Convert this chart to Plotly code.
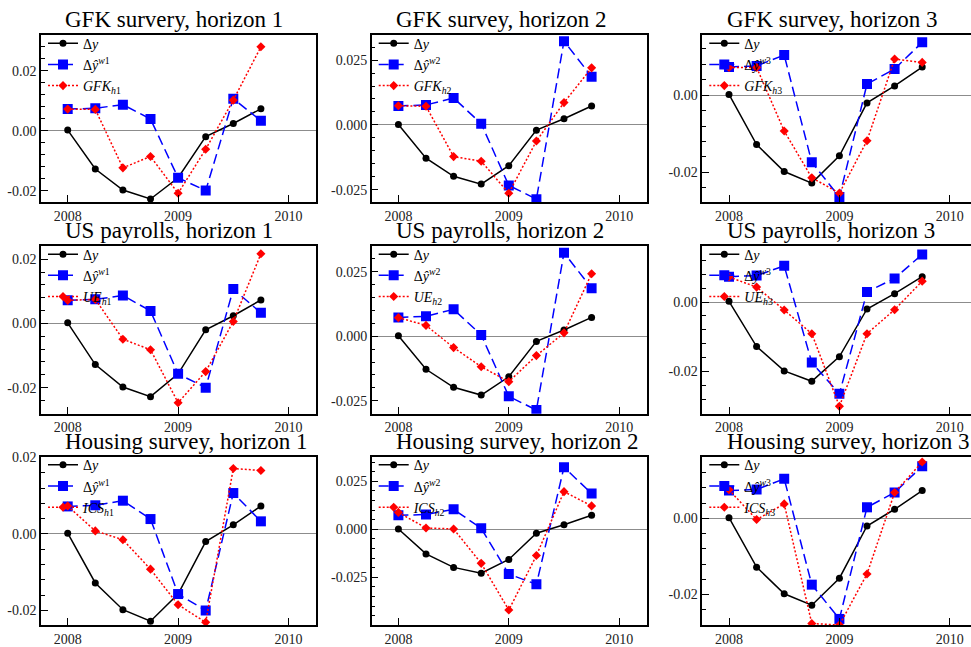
import plotly.graph_objects as go

# Quarterly observation dates
quarters = [2008.0, 2008.25, 2008.5, 2008.75, 2009.0, 2009.25, 2009.5, 2009.75]
year_ticks = [2008, 2009, 2010]

# Realised growth
dy = [0.0002, -0.0128, -0.0198, -0.0228, -0.0157, -0.0020, 0.0024, 0.0073]

# Model forecasts by horizon
dyhat_w1 = [0.0072, 0.0075, 0.0087, 0.0039, -0.0157, -0.0200, 0.0107, 0.0033]
dyhat_w2 = [0.0073, 0.0077, 0.0104, 0.0005, -0.0233, -0.0286, 0.0323, 0.0186]
dyhat_w3 = [0.0073, 0.0076, 0.0104, -0.0174, -0.0264, 0.0029, 0.0068, 0.0137]

# Indicator-based forecasts
gfk_h1 = [0.0072, 0.0071, -0.0124, -0.0086, -0.0209, -0.0062, 0.0102, 0.0280]
gfk_h2 = [0.0074, 0.0072, -0.0122, -0.0140, -0.0263, -0.0062, 0.0086, 0.0220]
gfk_h3 = [0.0072, 0.0072, -0.0093, -0.0214, -0.0254, -0.0118, 0.0094, 0.0085]
ue_h1 = [0.0072, 0.0075, -0.0049, -0.0082, -0.0247, -0.0150, 0.0006, 0.0217]
ue_h2 = [0.0072, 0.0042, -0.0044, -0.0118, -0.0176, -0.0075, 0.0013, 0.0242]
ue_h3 = [0.0072, 0.0043, -0.0023, -0.0091, -0.0300, -0.0091, -0.0022, 0.0060]
ics_h1 = [0.0073, 0.0008, -0.0015, -0.0092, -0.0185, -0.0231, 0.0171, 0.0166]
ics_h2 = [0.0088, 0.0007, 0.0002, -0.0177, -0.0420, -0.0136, 0.0196, 0.0122]
ics_h3 = [0.0075, -0.0003, 0.0038, -0.0276, -0.0280, -0.0146, 0.0068, 0.0148]

titles = [
    "GFK survery, horizon 1", "GFK survey, horizon 2", "GFK survey, horizon 3",
    "US payrolls, horizon 1", "US payrolls, horizon 2", "US payrolls, horizon 3",
    "Housing survey, horizon 1", "Housing survey, horizon 2", "Housing survey, horizon 3",
]
indicator_names = ["GFK", "UE", "ICS"]
indicator_series = [[gfk_h1, gfk_h2, gfk_h3], [ue_h1, ue_h2, ue_h3], [ics_h1, ics_h2, ics_h3]]
model_series = [dyhat_w1, dyhat_w2, dyhat_w3]

y_ranges = [
    [-0.0238, 0.0318], [-0.0297, 0.0345], [-0.0277, 0.0155],
    [-0.0281, 0.0240], [-0.0300, 0.0348], [-0.0321, 0.0160],
    [-0.0238, 0.0201], [-0.0498, 0.0376], [-0.0280, 0.0161],
]

W, H = 971, 647
col_px = [(41, 316), (371.7, 646.7), (702.3, 971)]
row_px = [(29, 199), (244.3, 415), (459.3, 630.7)]
year_px = 110.4
title_left_px = [63, 394, 725]

FONT = "Liberation Serif"

fig = go.Figure()
layout = dict(
    width=W, height=H, margin=dict(l=0, r=0, t=0, b=0),
    paper_bgcolor="white", plot_bgcolor="white",
    font=dict(family=FONT, size=14, color="black"),
    annotations=[],
)

for r in range(3):
    for c in range(3):
        i = r * 3 + c
        n = i + 1
        sfx = "" if n == 1 else str(n)
        xa, ya, lg = "x" + sfx, "y" + sfx, "legend" + sfx

        model = model_series[c]
        ind = indicator_series[r][c]
        h = c + 1

        fig.add_trace(go.Scatter(
            x=quarters, y=dy, mode="lines+markers", name="Δ<i>y</i>",
            line=dict(color="black", width=1.5),
            marker=dict(symbol="circle", size=7, color="black"),
            xaxis=xa, yaxis=ya, legend=lg))
        fig.add_trace(go.Scatter(
            x=quarters, y=model, mode="lines+markers",
            name=f"Δ<i>ŷ</i><sup><i>w</i>{h}</sup>",
            line=dict(color="#0000ff", width=1.5, dash="10px,5px"),
            marker=dict(symbol="square", size=10, color="#0000ff"),
            xaxis=xa, yaxis=ya, legend=lg))
        fig.add_trace(go.Scatter(
            x=quarters, y=ind, mode="lines+markers",
            name=f"<i>{indicator_names[r]}</i><sub><i>h</i>{h}</sub>",
            line=dict(color="#ff0000", width=1.5, dash="2px,2px"),
            marker=dict(symbol="diamond", size=7, color="#ff0000"),
            xaxis=xa, yaxis=ya, legend=lg))

        x0, x1 = col_px[c]
        y0, y1 = row_px[r]
        xr0 = 2008 - (67.7 - 41) / year_px
        xr1 = xr0 + (x1 - x0) / year_px

        step = 0.025 if c == 1 else 0.02
        minor_step = 0.005 if c == 1 else 0.004
        fmt = "{:.3f}" if c == 1 else "{:.2f}"
        yt = [-2 * step, -step, 0.0, step]
        yt = [v for v in yt if y_ranges[i][0] <= v <= y_ranges[i][1] + 1e-9]

        layout["xaxis" + sfx] = dict(
            domain=[x0 / W, x1 / W], anchor=ya, range=[xr0, xr1],
            tickmode="array", tickvals=year_ticks, ticktext=[str(v) for v in year_ticks],
            ticks="inside", ticklen=7, tickwidth=1, tickcolor="black",
            showline=True, linecolor="black", linewidth=1.5, mirror=True,
            showgrid=False, zeroline=False,
            tickfont=dict(family=FONT, size=14, color="#222222"),
        )
        layout["yaxis" + sfx] = dict(
            domain=[1 - y1 / H, 1 - y0 / H], anchor=xa, range=y_ranges[i],
            tickmode="array", tickvals=yt,
            ticktext=[fmt.format(v) if abs(v) > 1e-12 else fmt.format(0.0) for v in yt],
            ticks="inside", ticklen=7, tickwidth=1, tickcolor="black",
            minor=dict(tickmode="linear", tick0=0, dtick=minor_step, ticks="inside",
                       ticklen=4, tickwidth=1, tickcolor="black"),
            showline=True, linecolor="black", linewidth=1.5, mirror=(c != 2),
            showgrid=False, zeroline=True, zerolinecolor="#8c8c8c", zerolinewidth=1,
            tickfont=dict(family=FONT, size=14, color="#222222"),
        )
        layout[lg] = dict(
            x=(x0 + 2) / W, y=1 - (y0 - 8) / H, xanchor="left", yanchor="top",
            bgcolor="rgba(0,0,0,0)", borderwidth=0, tracegroupgap=0, itemwidth=30,
            font=dict(family=FONT, size=14, color="black"),
        )
        layout["annotations"].append(dict(
            text=titles[i], xref="paper", yref="paper",
            x=title_left_px[c] / W, y=1 - y0 / H, xanchor="left", yanchor="bottom",
            yshift=1, showarrow=False, font=dict(family=FONT, size=23, color="black"),
        ))

fig.update_layout(**layout)
fig.write_html("out.html")
